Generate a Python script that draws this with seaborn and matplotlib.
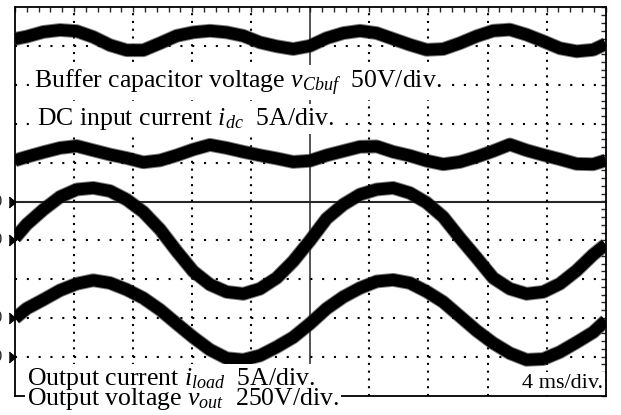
import numpy as np
import pandas as pd
import matplotlib
matplotlib.use("Agg")
import matplotlib.pyplot as plt
from matplotlib.patches import Rectangle
import seaborn as sns

# ---- data (time in ms, amplitude in screen divisions) ----
time_ms = [0, 0.79, 1.92, 3.05, 4.18, 5.30, 6.43, 7.56, 8.69, 9.82, 10.95, 12.07,
           13.20, 14.33, 15.46, 16.59, 17.72, 18.84, 19.97, 21.10, 22.23, 23.36,
           24.49, 25.61, 26.74, 27.87, 29.00, 30.13, 31.26, 32.38, 33.51, 34.64,
           35.77, 36.90, 38.03, 39.15, 40.0]
v_cbuf = [4.19, 4.25, 4.37, 4.42, 4.39, 4.24, 4.03, 3.90, 3.90, 4.08, 4.27, 4.36,
          4.40, 4.36, 4.27, 4.10, 4.00, 3.93, 4.01, 4.21, 4.34, 4.40, 4.34, 4.19,
          4.04, 3.91, 3.93, 4.08, 4.26, 4.40, 4.43, 4.30, 4.13, 3.95, 3.87, 3.91, 4.06]
i_dc = [1.06, 1.15, 1.27, 1.38, 1.43, 1.32, 1.21, 1.12, 1.01, 1.06, 1.19, 1.34,
        1.46, 1.38, 1.28, 1.19, 1.11, 1.02, 1.05, 1.19, 1.30, 1.41, 1.42, 1.28,
        1.18, 1.05, 0.96, 1.02, 1.15, 1.30, 1.47, 1.32, 1.20, 1.09, 0.97, 0.96, 1.06]
i_load = [-0.94, -0.59, -0.21, 0.12, 0.31, 0.35, 0.27, 0.05, -0.27, -0.72, -1.28, -1.80,
          -2.14, -2.33, -2.38, -2.25, -1.97, -1.54, -1.01, -0.44, -0.08, 0.18, 0.31, 0.35,
          0.22, -0.03, -0.40, -0.94, -1.45, -1.97, -2.25, -2.38, -2.33, -2.12, -1.78, -1.37, -1.11]
v_out = [-3.01, -2.76, -2.53, -2.29, -2.12, -2.03, -2.10, -2.27, -2.49, -2.79, -3.15, -3.50,
         -3.82, -4.04, -4.08, -3.97, -3.75, -3.50, -3.15, -2.76, -2.46, -2.23, -2.06, -2.02,
         -2.10, -2.32, -2.59, -2.96, -3.33, -3.65, -3.91, -4.08, -4.06, -3.88, -3.63, -3.37, -3.07]
ground_levels = [0, -1, -3, -4]
channel_tags = ["0", "0", "0", "0"]

label_vcbuf = r"Buffer capacitor voltage $v_{Cbuf}$  50V/div."
label_idc = r"DC input current $i_{dc}$  5A/div."
label_iload = r"Output current $i_{load}$  5A/div."
label_vout = r"Output voltage $v_{out}$  250V/div."
label_time = "4 ms/div."

# ---- style ----
sns.set_style("white")
plt.rcParams["font.family"] = ["Liberation Serif", "DejaVu Serif"]
plt.rcParams["mathtext.fontset"] = "custom"
plt.rcParams["mathtext.rm"] = "Liberation Serif"
plt.rcParams["mathtext.it"] = "Liberation Serif:italic"

W, H = 621, 415
fig = plt.figure(figsize=(W / 100, H / 100), dpi=100)
fig.patch.set_facecolor("white")

L, T, Wd, Hd = 15, 7.5, 590.7, 388
pos = [L / W, 1 - (T + Hd) / H, Wd / W, Hd / H]

# center cross axes (below)
ax2 = fig.add_axes(pos, zorder=0)
ax2.set_xlim(0, 40)
ax2.set_ylim(-5, 5)
for s in ["top", "right"]:
    ax2.spines[s].set_visible(False)
ax2.spines["left"].set_position(("data", 20))
ax2.spines["bottom"].set_position(("data", 0))
ax2.spines["left"].set_linewidth(1.1)
ax2.spines["bottom"].set_linewidth(1.5)
ax2.set_xticks(np.arange(0, 40.01, 0.8))
ax2.set_yticks(np.arange(-5, 5.01, 0.2))
ax2.tick_params(direction="inout", length=5, width=1, labelbottom=False, labelleft=False)

# main axes
ax = fig.add_axes(pos, zorder=1)
ax.patch.set_visible(False)
ax.set_xlim(0, 40)
ax.set_ylim(-5, 5)
for s in ax.spines.values():
    s.set_linewidth(1.3)
    s.set_color("black")
ax.set_xticks(np.arange(0, 40.01, 0.8))
ax.set_yticks(np.arange(-5, 5.01, 0.2))
ax.tick_params(direction="in", length=3.5, width=1, top=True, right=True,
               labelbottom=False, labelleft=False)

for x in [4, 8, 12, 16, 24, 28, 32, 36]:
    ax.axvline(x, color="black", lw=1.5, ls=(0, (1, 2.73)), zorder=1)
for y in [-4, -3, -2, -1, 1, 2, 3, 4]:
    ax.axhline(y, color="black", lw=1.5, ls=(0, (1, 4.67)), zorder=1)

df = pd.concat([
    pd.DataFrame({"t": time_ms, "v": v_cbuf, "trace": "vcbuf"}),
    pd.DataFrame({"t": time_ms, "v": i_dc, "trace": "idc"}),
    pd.DataFrame({"t": time_ms, "v": i_load, "trace": "iload"}),
    pd.DataFrame({"t": time_ms, "v": v_out, "trace": "vout"}),
])
sns.lineplot(data=df, x="t", y="v", units="trace", estimator=None, sort=False,
             color="#2a2a2a", linewidth=10, ax=ax, legend=False, alpha=0.6,
             solid_joinstyle="round", solid_capstyle="butt", zorder=3)
sns.lineplot(data=df, x="t", y="v", units="trace", estimator=None, sort=False,
             color="black", linewidth=8.6, ax=ax, legend=False,
             solid_joinstyle="round", solid_capstyle="butt", zorder=4)
ax.set_xlabel("")
ax.set_ylabel("")

# channel ground markers
tri = [(-0.6, -1), (0.6, 0), (-0.6, 1)]
ax.plot([-0.22] * len(ground_levels), ground_levels, ls="none", marker=tri,
        ms=7.7, color="black", clip_on=False, zorder=5)


def px(x, y):
    return (x / W, 1 - y / H)


for lvl, tag in zip(ground_levels, channel_tags):
    ypx = T + Hd / 2 - lvl * Hd / 10
    fig.text(*px(-2, ypx), tag, fontsize=12, ha="center", va="center")

labels = [
    (34, 88, label_vcbuf, 18.5, "left"),
    (37, 125, label_idc, 18.5, "left"),
    (27, 385, label_iload, 18.5, "left"),
    (27, 405, label_vout, 18.5, "left"),
    (603, 388, label_time, 16, "right"),
]
texts = []
for x, y, s, fs, ha in labels:
    texts.append(fig.text(*px(x, y), s, fontsize=fs, ha=ha, va="baseline",
                          color="black", zorder=4))

# white background rectangles behind the texts (sized from the rendered text)
fig.canvas.draw()
r = fig.canvas.get_renderer()
pad = 2
for t in texts:
    bb = t.get_window_extent(renderer=r)
    fig.patches.append(Rectangle(((bb.x0 - pad) / W, (bb.y0 - pad) / H),
                                 (bb.width + 2 * pad) / W, (bb.height + 2 * pad) / H,
                                 transform=fig.transFigure, facecolor="white",
                                 edgecolor="none", zorder=3))

fig.savefig("out.png", dpi=100, facecolor="white")
